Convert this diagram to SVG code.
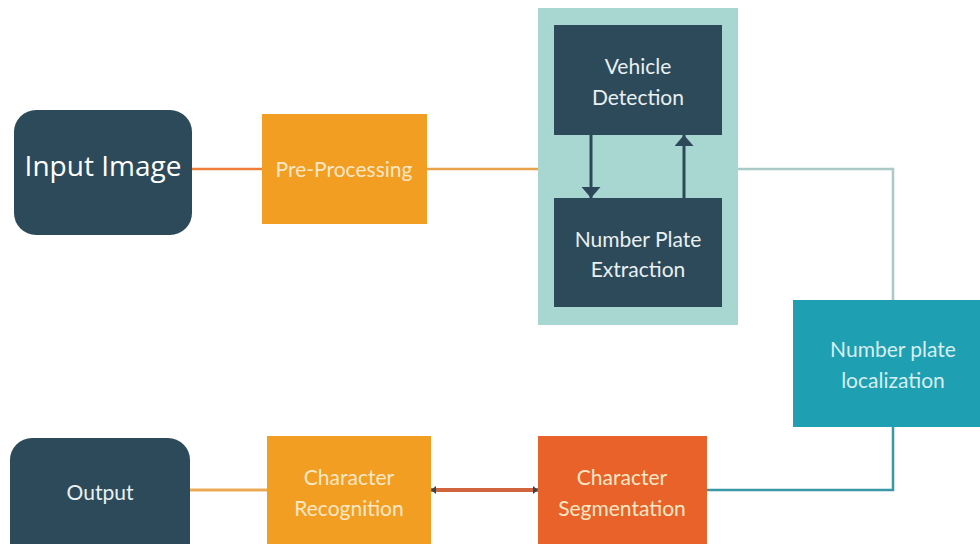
<svg xmlns="http://www.w3.org/2000/svg" width="980" height="544" viewBox="0 0 980 544">
<defs>
<marker id="big" viewBox="0 0 10 10" refX="10" refY="5" markerWidth="11" markerHeight="19" orient="auto" markerUnits="userSpaceOnUse" preserveAspectRatio="none">
<path d="M0,0 L10,5 L0,10 z" fill="#2c4859"/>
</marker>
</defs>
<style>
.dark{fill:#2d4a5b}
.yel{fill:#f19e23}
.lbl{font-family:Lato,"Open Sans","Liberation Sans",sans-serif;font-size:21px;text-anchor:middle}
.lt{fill:#e8f0f2}
.cr{fill:#fbe7c6}
.line{fill:none;stroke-width:2.5}
</style>
<rect width="980" height="544" fill="#ffffff"/>
<g id="detection-group">
<rect x="538" y="8" width="200" height="317" fill="#a8d6d0"/>
</g>
<g id="connectors">
<line class="line" x1="192" y1="169" x2="262" y2="169" stroke="#ee7e3a"/>
<line class="line" x1="427" y1="169" x2="538" y2="169" stroke="#e9a24c"/>
<polyline class="line" points="738,169 893,169 893,300" stroke="#aac9c7"/>
<polyline class="line" points="893,427 893,490 707,490" stroke="#3a98a6"/>
<line x1="707" y1="490" x2="431" y2="490" stroke="#d0643f" stroke-width="4"/>
<path d="M431,490 l5,-4 v8 z M538,490 l-5,-4 v8 z" fill="#2c4859"/>
<line x1="267" y1="490" x2="190" y2="490" stroke="#eaaa55" stroke-width="3"/>
<line x1="591" y1="135" x2="591" y2="198" stroke="#2c4859" stroke-width="3" marker-end="url(#big)"/>
<line x1="684" y1="198" x2="684" y2="135" stroke="#2c4859" stroke-width="3" marker-end="url(#big)"/>
</g>
<g id="input-image">
<rect x="14" y="110" width="178" height="125" rx="22" class="dark"/>
<text x="103" y="176" font-family="'Open Sans','Liberation Sans',sans-serif" font-size="28" fill="#ffffff" text-anchor="middle">Input Image</text>
</g>
<g id="pre-processing">
<rect x="262" y="114" width="165" height="110" class="yel"/>
<text x="344" y="177" class="lbl cr">Pre-Processing</text>
</g>
<g id="vehicle-detection">
<rect x="554" y="25" width="168" height="110" class="dark"/>
<text x="638" y="74" class="lbl lt">Vehicle</text>
<text x="638" y="105" class="lbl lt">Detection</text>
</g>
<g id="number-plate-extraction">
<rect x="554" y="198" width="168" height="109" class="dark"/>
<text x="638" y="247" class="lbl lt">Number Plate</text>
<text x="638" y="277" class="lbl lt">Extraction</text>
</g>
<g id="number-plate-localization">
<rect x="793" y="300" width="187" height="127" fill="#1f9fb2"/>
<text x="893" y="357" class="lbl" fill="#d6eef0">Number plate</text>
<text x="893" y="388" class="lbl" fill="#d6eef0">localization</text>
</g>
<g id="character-segmentation">
<rect x="538" y="436" width="169" height="108" fill="#e86229"/>
<text x="622" y="485" class="lbl cr">Character</text>
<text x="622" y="516" class="lbl cr">Segmentation</text>
</g>
<g id="character-recognition">
<rect x="267" y="436" width="164" height="108" class="yel"/>
<text x="349" y="485" class="lbl cr">Character</text>
<text x="349" y="516" class="lbl cr">Recognition</text>
</g>
<g id="output">
<rect x="10" y="438" width="180" height="130" rx="22" class="dark"/>
<text x="100" y="500" class="lbl lt">Output</text>
</g>
</svg>
